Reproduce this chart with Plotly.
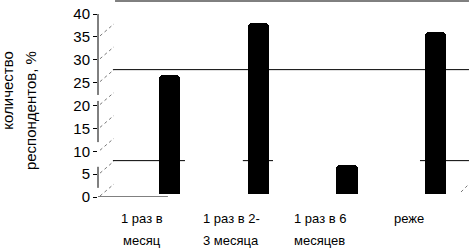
import plotly.graph_objects as go

# ---- data ----
categories = ["1 раз в месяц", "1 раз в 2-3 месяца", "1 раз в 6 месяцев", "реже"]
label_line1 = ["1 раз в", "1 раз в 2-", "1 раз в 6", "реже"]
label_line2 = ["месяц", "3 месяца", "месяцев", ""]
values = [25, 36, 6, 34]
y_ticks = [0, 5, 10, 15, 20, 25, 30, 35, 40]
y_title_1 = "количество"
y_title_2 = "респондентов, %"

FONT = "Liberation Sans, Arial, sans-serif"

fig = go.Figure()
fig.add_trace(go.Bar(
    x=categories, y=values, yaxis="y2",
    marker=dict(color="black", line=dict(width=0), cornerradius=4),
    width=0.237, offset=0.187, showlegend=False, hoverinfo="skip",
))

shapes = []
# back-wall gridline at 25 (offset like a 3D back wall)
shapes.append(dict(type="line", layer="below", xref="paper", x0=0.042, x1=1.045,
                   yref="y", ysizemode="pixel", yanchor=25, y0=13, y1=13,
                   line=dict(color="black", width=1)))
# back-wall top edge at 40
shapes.append(dict(type="line", layer="below", xref="paper", x0=0.048, x1=1.045,
                   yref="paper", ysizemode="pixel", yanchor=1, y0=13, y1=13,
                   line=dict(color="black", width=1)))
# broken gridline at 5
for a, b in [(0.042, 0.245), (0.408, 0.493), (0.907, 1.045)]:
    shapes.append(dict(type="line", layer="below", xref="paper", x0=a, x1=b,
                       yref="y", ysizemode="pixel", yanchor=5, y0=13.5, y1=13.5,
                       line=dict(color="black", width=1)))
# dotted wall diagonals at each tick
for v in y_ticks:
    shapes.append(dict(type="line", layer="below", xref="paper", xsizemode="pixel", xanchor=0,
                       x0=2, x1=16, yref="y", ysizemode="pixel", yanchor=v, y0=1, y1=13,
                       line=dict(color="#777", width=1, dash="dot")))
# floor right diagonal
shapes.append(dict(type="line", layer="below", xref="paper", xsizemode="pixel", xanchor=1,
                   x0=8, x1=15, yref="y", ysizemode="pixel", yanchor=0, y0=5, y1=12,
                   line=dict(color="#777", width=1, dash="dot")))
# y-axis line segments (broken as in the reference)
for a, b in [(22.3, 40), (12, 21), (2, 6.6)]:
    shapes.append(dict(type="line", xref="paper", x0=0, x1=0, yref="y", y0=a, y1=b,
                       line=dict(color="black", width=1)))
# baseline stub
shapes.append(dict(type="line", xref="paper", x0=0, x1=0.197, yref="y", y0=0, y1=0,
                   line=dict(color="black", width=1)))

annotations = []
for c, l1, l2 in zip(categories, label_line1, label_line2):
    annotations.append(dict(x=c, xref="x", y=-0.115, yref="paper", text=l1, showarrow=False,
                            xanchor="center", yanchor="middle",
                            font=dict(family=FONT, size=13, color="black")))
    if l2:
        annotations.append(dict(x=c, xref="x", y=-0.24, yref="paper", text=l2, showarrow=False,
                                xanchor="center", yanchor="middle",
                                font=dict(family=FONT, size=13, color="black")))
annotations.append(dict(x=-0.255, xref="paper", y=0.81, yref="paper", text=y_title_1,
                        textangle=-90, showarrow=False, xanchor="center", yanchor="top",
                        font=dict(family=FONT, size=15, color="black")))
annotations.append(dict(x=-0.192, xref="paper", y=0.81, yref="paper", text=y_title_2,
                        textangle=-90, showarrow=False, xanchor="center", yanchor="top",
                        font=dict(family=FONT, size=15, color="black")))

fig.update_layout(
    width=469, height=250,
    margin=dict(l=98, r=16, t=14, b=53, autoexpand=False),
    paper_bgcolor="white", plot_bgcolor="white",
    showlegend=False,
    bargap=0,
    hovermode=False,
    xaxis=dict(type="category", range=[-0.5, 3.5], showticklabels=False, showgrid=False,
               zeroline=False, showline=False, ticks="", automargin=False),
    yaxis=dict(range=[0, 40], tickvals=y_ticks, ticks="outside", ticklen=4, tickcolor="black",
               showgrid=False, zeroline=False, showline=False, automargin=False,
               tickfont=dict(family=FONT, size=15, color="black")),
    yaxis2=dict(overlaying="y", range=[-0.737, 37.79], visible=False, showgrid=False,
                zeroline=False),
    shapes=shapes,
    annotations=annotations,
)

fig.write_html("out.html", config={"displayModeBar": False},
               post_script="document.body.style.margin='0';document.body.style.overflow='hidden';")
